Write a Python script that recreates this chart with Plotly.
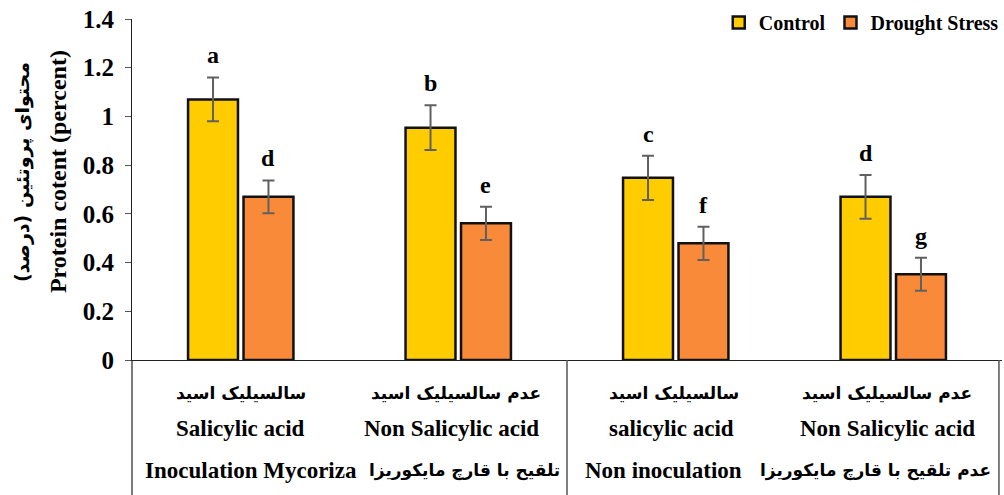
import plotly.graph_objects as go

categories = ["g1", "g2", "g3", "g4"]
control = [1.07, 0.954, 0.748, 0.67]
control_err = [0.09, 0.092, 0.091, 0.09]
drought = [0.67, 0.561, 0.479, 0.352]
drought_err = [0.067, 0.068, 0.068, 0.068]
control_letters = ["a", "b", "c", "d"]
drought_letters = ["d", "e", "f", "g"]
row1_fa = ["سالسیلیک اسید", "عدم سالسیلیک اسید", "سالسیلیک اسید", "عدم سالسیلیک اسید"]
row2_en = ["Salicylic acid", "Non Salicylic acid", "salicylic acid", "Non Salicylic acid"]
group_en = ["Inoculation Mycoriza", "Non inoculation"]
group_fa = ["تلقیح با قارچ مایکوریزا", "عدم تلقیح با قارچ مایکوریزا"]
y_ticks = [0, 0.2, 0.4, 0.6, 0.8, 1.0, 1.2, 1.4]
y_ticklabels = ["0", "0.2", "0.4", "0.6", "0.8", "1", "1.2", "1.4"]

SERIF = "Liberation Serif, Times New Roman, serif"
FA = "DejaVu Sans, Noto Sans, sans-serif"

fig = go.Figure()
fig.add_trace(go.Bar(
    x=categories, y=control, name="Control",
    marker=dict(color="#FFCC00", line=dict(color="#111111", width=2.5)),
    error_y=dict(type="data", array=control_err, color="#606060", thickness=2, width=6),
))
fig.add_trace(go.Bar(
    x=categories, y=drought, name="Drought Stress",
    marker=dict(color="#F98A3A", line=dict(color="#111111", width=2.5)),
    error_y=dict(type="data", array=drought_err, color="#606060", thickness=2, width=6),
))

ann = []
# significance letters
for i in range(len(categories)):
    ann.append(dict(x=i - 0.1264, y=control[i] + control_err[i], xref="x", yref="y",
                    text="<b>%s</b>" % control_letters[i], showarrow=False,
                    yanchor="bottom", yshift=7, font=dict(family=SERIF, size=24, color="#000")))
    ann.append(dict(x=i + 0.1264, y=drought[i] + drought_err[i], xref="x", yref="y",
                    text="<b>%s</b>" % drought_letters[i], showarrow=False,
                    yanchor="bottom", yshift=7, font=dict(family=SERIF, size=24, color="#000")))

# category rows
fa_off = [0.0, -0.01, -0.01, -0.03]
en_off = [0.0, -0.03, -0.02, -0.025]
for i in range(4):
    ann.append(dict(x=i + fa_off[i], y=0, xref="x", yref="y", yshift=-33,
                    text="<b>%s</b>" % row1_fa[i], showarrow=False,
                    font=dict(family=FA, size=17, color="#000")))
    ann.append(dict(x=i + en_off[i], y=0, xref="x", yref="y", yshift=-68, text="<b>%s</b>" % row2_en[i],
                    showarrow=False, font=dict(family=SERIF, size=23, color="#000")))

# group row
ann.append(dict(x=-0.45, y=0, xref="x", yref="y", yshift=-110, xanchor="left",
                text="<b>%s</b>" % group_en[0], showarrow=False, font=dict(family=SERIF, size=23, color="#000")))
ann.append(dict(x=1.477, y=0, xref="x", yref="y", yshift=-110, xanchor="right",
                text="<b>%s</b>" % group_fa[0], showarrow=False, font=dict(family=FA, size=17, color="#000")))
ann.append(dict(x=1.574, y=0, xref="x", yref="y", yshift=-110, xanchor="left",
                text="<b>%s</b>" % group_en[1], showarrow=False, font=dict(family=SERIF, size=23, color="#000")))
ann.append(dict(x=3.46, y=0, xref="x", yref="y", yshift=-110, xanchor="right",
                text="<b>%s</b>" % group_fa[1], showarrow=False, font=dict(family=FA, size=17, color="#000")))

# y-axis title (two lines), x given in pixels then converted to paper fraction
ann.append(dict(x=(22 - 132) / 870.0, y=0.551, xref="paper", yref="paper", textangle=-90,
                xanchor="center", yanchor="middle",
                text="<b>محتوای پروتئین (درصد)</b>", showarrow=False,
                font=dict(family=FA, size=19, color="#000")))
ann.append(dict(x=(58 - 132) / 870.0, y=0.551, xref="paper", yref="paper", textangle=-90,
                xanchor="center", yanchor="middle",
                text="<b>Protein cotent (percent)</b>", showarrow=False,
                font=dict(family=SERIF, size=24, color="#000")))

bottom = -135 / 341.0
shapes = [
    dict(type="line", xref="paper", yref="paper", x0=0, x1=0, y0=bottom, y1=0,
         line=dict(color="#222", width=1.2)),
    dict(type="line", xref="x", yref="paper", x0=1.5, x1=1.5, y0=bottom, y1=0,
         line=dict(color="#555", width=1.5)),
    dict(type="line", xref="paper", yref="paper", x0=0.9965, x1=0.9965, y0=bottom, y1=0,
         line=dict(color="#555", width=1.5)),
]

fig.update_layout(
    width=1004, height=495,
    margin=dict(l=132, r=2, t=19, b=135, autoexpand=False),
    paper_bgcolor="white", plot_bgcolor="white",
    barmode="group", bargap=0.49, bargroupgap=0.1,
    showlegend=True,
    legend=dict(orientation="h", x=1.002, xanchor="right", y=0.99, yanchor="middle",
                font=dict(family=SERIF, size=20, color="#000", weight="bold"),
                bgcolor="rgba(0,0,0,0)", traceorder="normal"),
    annotations=ann,
    shapes=shapes,
    xaxis=dict(range=[-0.5, 3.5], showticklabels=False, ticks="", showline=True, automargin=False,
               linecolor="#222", linewidth=1.2, showgrid=False, zeroline=False, fixedrange=True),
    yaxis=dict(range=[0, 1.4], tickvals=y_ticks, ticktext=["<b>%s</b>" % t for t in y_ticklabels],
               tickfont=dict(family=SERIF, size=25, color="#000"), automargin=False,
               ticks="outside", ticklen=6, tickcolor="#555", showline=True, linecolor="#222",
               ticklabelstandoff=6,
               linewidth=1.2, showgrid=False, zeroline=False, fixedrange=True),
)

fig.write_html("out.html", post_script="document.body.style.margin='0';",
               config={"displayModeBar": False})
